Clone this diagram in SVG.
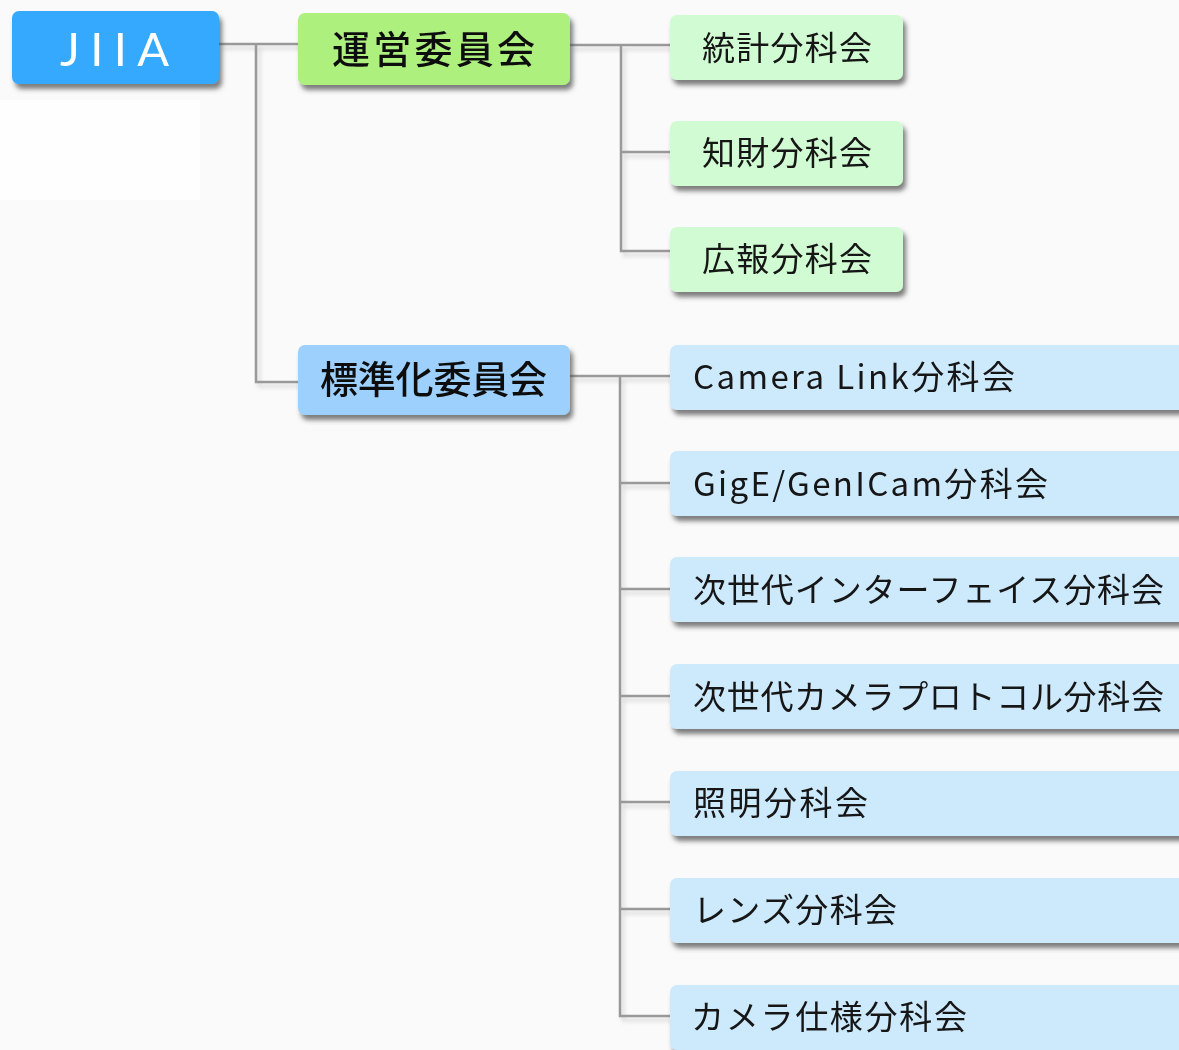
<svg xmlns="http://www.w3.org/2000/svg" width="1179" height="1050" viewBox="0 0 1179 1050">
  <defs>
    <filter id="sh" x="-10%" y="-20%" width="130%" height="160%">
      <feDropShadow dx="3" dy="5" stdDeviation="2.5" flood-color="#444" flood-opacity="0.7"/>
    </filter>
    <filter id="lsh" x="-20%" y="-20%" width="140%" height="140%">
      <feDropShadow dx="3" dy="4" stdDeviation="2" flood-color="#888" flood-opacity="0.35"/>
    </filter>
  </defs>
  <style>
    .root { fill: #35a9fd; }
    .g1 { fill: #adf07e; }
    .g2 { fill: #d1fcd3; }
    .b1 { fill: #9dd0fc; }
    .b2 { fill: #cde9fc; }
    .t { font-family: "Noto Sans CJK JP", "Noto Sans", sans-serif; fill: #151515; }
    .tb { font-family: "Noto Sans CJK JP", "Noto Sans", sans-serif; font-weight: 500; fill: #111; font-size: 38px; }
    .ts { font-size: 33px; }
    .tj { font-family: Lato, "Liberation Sans", sans-serif; font-weight: normal; fill: #fff; font-size: 47px; }
    .conn { fill: none; stroke: #999; stroke-width: 2.5; }
  </style>
  <rect x="0" y="0" width="1179" height="1050" fill="#fafafa"/>
  <rect x="0" y="100" width="200" height="100" fill="#fefefe"/>

  <g id="connectors" class="conn" filter="url(#lsh)">
    <path d="M219 44 H298 M256 44 V382 H298"/>
    <path d="M570 45 H670 M621 45 V251 H670 M621 152 H670"/>
    <path d="M570 376 H670 M620 376 V1016 H670 M620 483 H670 M620 589 H670 M620 696 H670 M620 802 H670 M620 909 H670"/>
  </g>

  <g id="n-jiia" filter="url(#sh)">
    <rect class="root" x="12" y="11" width="207" height="73" rx="7"/>
    <text class="tj" x="60" y="66" textLength="109" lengthAdjust="spacing">JIIA</text>
  </g>

  <g id="n-unei" filter="url(#sh)">
    <rect class="g1" x="298" y="13" width="272" height="72" rx="7"/>
    <text class="tb" x="332" y="63" textLength="203" lengthAdjust="spacing">運営委員会</text>
  </g>

  <g id="n-hyojunka" filter="url(#sh)">
    <rect class="b1" x="298" y="345" width="272" height="70" rx="7"/>
    <text class="tb" x="320" y="393" textLength="227" lengthAdjust="spacing">標準化委員会</text>
  </g>

  <g id="n-tokei" filter="url(#sh)">
    <rect class="g2" x="670" y="15" width="233" height="65" rx="7"/>
    <text class="t ts" x="702" y="60" textLength="170" lengthAdjust="spacing">統計分科会</text>
  </g>
  <g id="n-chizai" filter="url(#sh)">
    <rect class="g2" x="670" y="121" width="233" height="65" rx="7"/>
    <text class="t ts" x="702" y="165" textLength="170" lengthAdjust="spacing">知財分科会</text>
  </g>
  <g id="n-koho" filter="url(#sh)">
    <rect class="g2" x="670" y="227" width="233" height="65" rx="7"/>
    <text class="t ts" x="702" y="271" textLength="170" lengthAdjust="spacing">広報分科会</text>
  </g>

  <g id="n-cameralink" filter="url(#sh)">
    <rect class="b2" x="670" y="345" width="520" height="65" rx="7"/>
    <text class="t ts" x="693" y="389" textLength="322" lengthAdjust="spacing">Camera Link分科会</text>
  </g>
  <g id="n-gige" filter="url(#sh)">
    <rect class="b2" x="670" y="451" width="520" height="65" rx="7"/>
    <text class="t ts" x="693" y="496" textLength="355" lengthAdjust="spacing">GigE/GenICam分科会</text>
  </g>
  <g id="n-nextif" filter="url(#sh)">
    <rect class="b2" x="670" y="557" width="520" height="65" rx="7"/>
    <text class="t ts" x="693" y="602" textLength="471" lengthAdjust="spacing">次世代インターフェイス分科会</text>
  </g>
  <g id="n-nextcam" filter="url(#sh)">
    <rect class="b2" x="670" y="664" width="520" height="65" rx="7"/>
    <text class="t ts" x="693" y="709" textLength="471" lengthAdjust="spacing">次世代カメラプロトコル分科会</text>
  </g>
  <g id="n-shomei" filter="url(#sh)">
    <rect class="b2" x="670" y="771" width="520" height="65" rx="7"/>
    <text class="t ts" x="693" y="815" textLength="175" lengthAdjust="spacing">照明分科会</text>
  </g>
  <g id="n-lens" filter="url(#sh)">
    <rect class="b2" x="670" y="878" width="520" height="65" rx="7"/>
    <text class="t ts" x="693" y="922" textLength="204" lengthAdjust="spacing">レンズ分科会</text>
  </g>
  <g id="n-camspec" filter="url(#sh)">
    <rect class="b2" x="670" y="985" width="520" height="65" rx="7"/>
    <text class="t ts" x="691" y="1029" textLength="276" lengthAdjust="spacing">カメラ仕様分科会</text>
  </g>
</svg>
